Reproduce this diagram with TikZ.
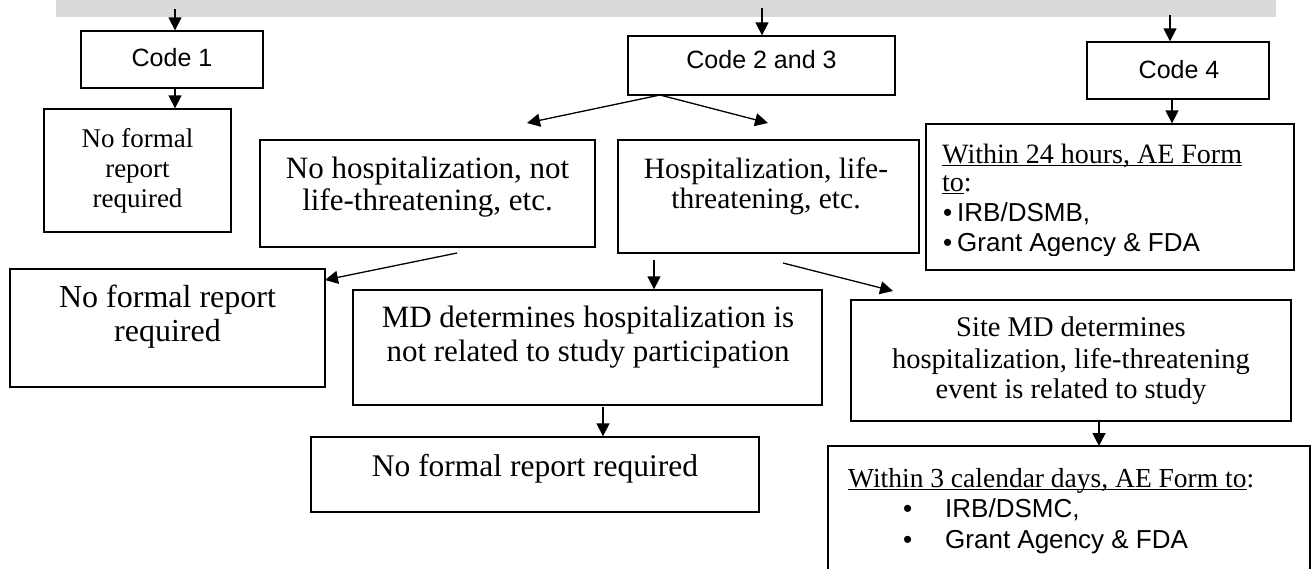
\documentclass[tikz,border=0pt]{standalone}
\usepackage{fontspec}
\setmainfont{Liberation Serif}
\newfontfamily\arialf{Liberation Sans}
\usetikzlibrary{arrows.meta}
\definecolor{barcol}{HTML}{D9D9D9}
\newcommand\ulin[1]{\setbox0=\hbox{#1}\rlap{\rule[-3.2pt]{\wd0}{1.2pt}}\box0}
\newcommand\mkbox[5]{\node[box, minimum width={#4pt-#2pt}, minimum height={#5pt-#3pt}] (#1) at ({(#2+#4)/2},{(#3+#5)/2}) {};}
\begin{document}
\begin{tikzpicture}[x=1pt,y=-1pt,
  box/.style={draw, line width=1.3pt, inner sep=0pt, rectangle},
  arr/.style={line width=1.3pt, -{Triangle[length=13pt,width=13pt]}},
  tx/.style={inner sep=0pt, anchor=base},
  txl/.style={inner sep=0pt, anchor=base west},
  sz/.style={font=\fontsize{#1}{#1}\selectfont},
  ar/.style={font=\arialf\fontsize{#1}{#1}\selectfont}]
\useasboundingbox (0,0) rectangle (1312,568);
% grey bar
\node[fill=barcol, inner sep=0pt, minimum width=1220pt, minimum height=17pt] (bar) at (666,8.5) {};
% boxes
\mkbox{code1}{81}{31}{263}{88}
\mkbox{nfa}{44}{109}{231}{232}
\mkbox{code23}{628}{36}{895}{95}
\mkbox{code4}{1087}{42}{1269}{99}
\mkbox{ae24}{926}{124}{1294}{270}
\mkbox{nohosp}{260}{140}{595}{247}
\mkbox{hosp}{618}{140}{919}{253}
\mkbox{nfb}{10}{269}{325}{387}
\mkbox{md}{353}{290}{822}{405}
\mkbox{nfc}{311}{437}{759}{512}
\mkbox{site}{851}{300}{1291}{421}
% last box, cut by the picture's lower edge
\draw[line width=1.3pt] (828,575) -- (828,446) -- (1310,446) -- (1310,575);
\coordinate (ae3top) at (1099,446);
% texts
\node[tx, ar=25] (t1) at (172,66) {Code 1};
\node[tx, ar=25] (t23) at (761.5,68) {Code 2 and 3};
\node[tx, ar=25] (t4) at (1179,78) {Code 4};
\node[tx, sz=27] (nfa1) at (137.5,147) {No formal};
\node[tx, sz=27] (nfa2) at (137.5,177) {report};
\node[tx, sz=27] (nfa3) at (137.5,207) {required};
\node[tx, sz=31] (nh1) at (427.5,178) {No hospitalization, not};
\node[tx, sz=31] (nh2) at (427.5,210) {life-threatening, etc.};
\node[tx, sz=29.5] (h1) at (766,178) {Hospitalization, life-};
\node[tx, sz=29.5] (h2) at (766,208) {threatening, etc.};
\node[tx, sz=32] (nfb1) at (167.5,307) {No formal report};
\node[tx, sz=32] (nfb2) at (167.5,341) {required};
\node[tx, sz=31] (md1) at (588,327) {MD determines hospitalization is};
\node[tx, sz=31] (md2) at (588,361) {not related to study participation};
\node[tx, sz=31.5] (nfc1) at (535,476) {No formal report required};
\node[tx, sz=28.5] (s1) at (1071,336) {Site MD determines};
\node[tx, sz=28.5] (s2) at (1071,368) {hospitalization, life-threatening};
\node[tx, sz=28.5] (s3) at (1071,398) {event is related to study};
\begin{scope}
\clip (926,124) rectangle (1294,255.5);
\node[txl, sz=28] (a1) at (942,163) {\ulin{Within 24 hours, AE Form}};
\node[txl, sz=28] (a2) at (942,191) {\ulin{to}:};
\node[txl, ar=26] (a3b) at (943,221) {•};
\node[txl, ar=26] (a3) at (957,221) {IRB/DSMB,};
\node[txl, ar=26] (a4b) at (943,251.5) {•};
\node[txl, ar=26] (a4) at (957,251.5) {Grant Agency \& FDA};
\end{scope}
\node[txl, sz=27.5] (b1) at (848,487) {\ulin{Within 3 calendar days, AE Form to}:};
\node[txl, ar=26] (b2b) at (903,517) {•};
\node[txl, ar=26] (b2) at (945,517) {IRB/DSMC,};
\node[txl, ar=26] (b3b) at (903,548) {•};
\node[txl, ar=26] (b3) at (945,548) {Grant Agency \& FDA};
% connector end points
\coordinate (s1c) at (175,9);
\coordinate (s23) at (762,8);
\coordinate (s4) at (1170,15);
\coordinate (o4) at (1172,99);
\coordinate (o1) at (175,88);
\coordinate (o23) at (660,95);
\coordinate (tipL) at (527,123);
\coordinate (tipR) at (768,123);
\coordinate (onh) at (457,253);
\coordinate (tnfb) at (325,280);
\coordinate (oh) at (654,260);
\coordinate (ohs) at (783,263);
\coordinate (tsite) at (893,291);
\coordinate (omd) at (603,407);
\coordinate (osite) at (1099,421);
% connectors
\draw[arr] (s1c) -- (s1c |- code1.north);
\draw[arr] (s23) -- (s23 |- code23.north);
\draw[arr] (s4) -- (s4 |- code4.north);
\draw[arr] (o1) -- (o1 |- nfa.north);
\draw[arr] (o4) -- (o4 |- ae24.north);
\draw[arr] (o23) -- (tipL);
\draw[arr] (o23) -- (tipR);
\draw[arr] (onh) -- (tnfb);
\draw[arr] (oh) -- (oh |- md.north);
\draw[arr] (ohs) -- (tsite);
\draw[arr] (omd) -- (omd |- nfc.north);
\draw[arr] (osite) -- (ae3top);
\end{tikzpicture}
\end{document}
